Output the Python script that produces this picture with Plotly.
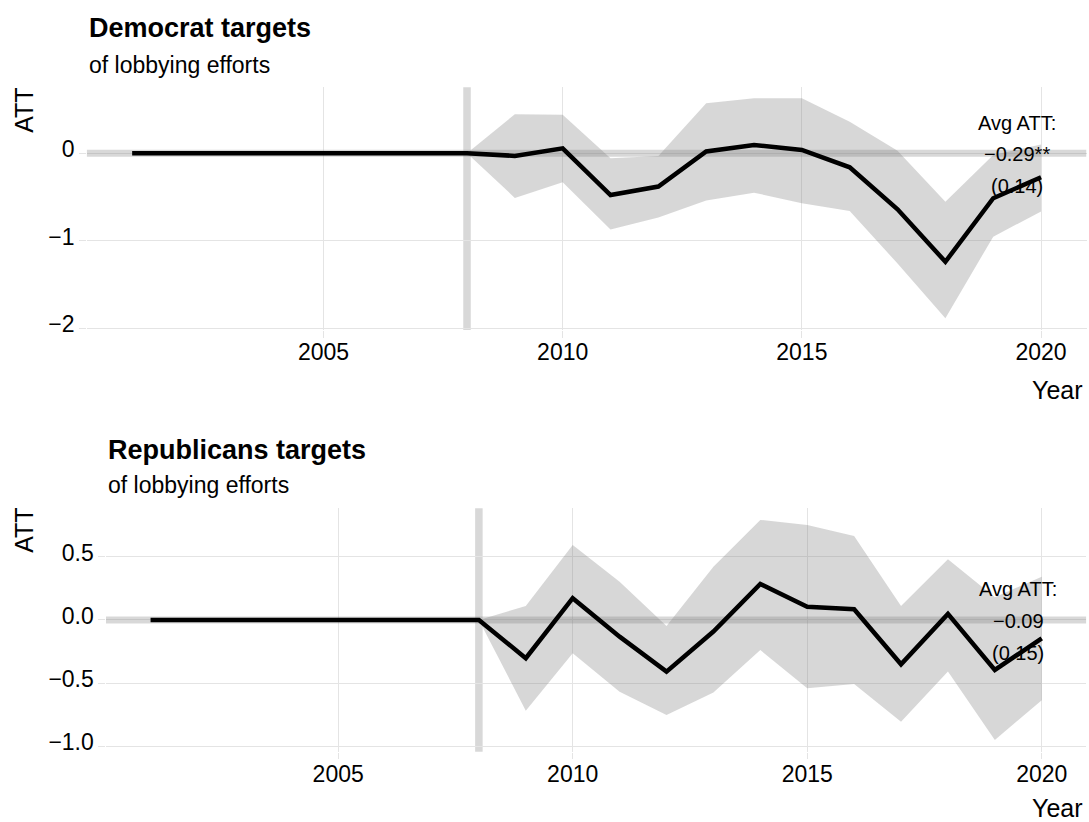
import plotly.graph_objects as go

# ---------------- data ----------------
years = [2001, 2002, 2003, 2004, 2005, 2006, 2007, 2008, 2009, 2010,
         2011, 2012, 2013, 2014, 2015, 2016, 2017, 2018, 2019, 2020]

dem_att = [0, 0, 0, 0, 0, 0, 0, 0, -0.03, 0.057,
           -0.477, -0.38, 0.02, 0.095, 0.038, -0.16, -0.64, -1.24, -0.514, -0.274]
dem_lo = [0, 0, 0, 0, 0, 0, 0, 0, -0.51, -0.33,
          -0.87, -0.735, -0.54, -0.45, -0.57, -0.66, -1.26, -1.886, -0.953, -0.665]
dem_hi = [0, 0, 0, 0, 0, 0, 0, 0, 0.446, 0.44,
          -0.057, -0.03, 0.571, 0.628, 0.628, 0.36, 0.03, -0.553, -0.02, 0.1]

rep_att = [0, 0, 0, 0, 0, 0, 0, 0, -0.303, 0.172,
           -0.132, -0.409, -0.092, 0.285, 0.105, 0.085, -0.351, 0.048, -0.396, -0.145]
rep_lo = [0, 0, 0, 0, 0, 0, 0, 0, -0.718, -0.264,
          -0.568, -0.752, -0.575, -0.238, -0.541, -0.507, -0.805, -0.409, -0.95, -0.636]
rep_hi = [0, 0, 0, 0, 0, 0, 0, 0, 0.111, 0.594,
          0.303, -0.048, 0.422, 0.792, 0.752, 0.665, 0.111, 0.48, 0.18, 0.343]

treat_year = 2008
avg_label_x = 2019.5

panels = [
    dict(title="Democrat targets", subtitle="of lobbying efforts",
         att=dem_att, lo=dem_lo, hi=dem_hi,
         avg=["Avg ATT:", "\u22120.29**", "(0.14)"],
         yticks=[-2, -1, 0], yticktext=["\u22122", "\u22121", "0"],
         yrange=[-2.02, 0.754]),
    dict(title="Republicans targets", subtitle="of lobbying efforts",
         att=rep_att, lo=rep_lo, hi=rep_hi,
         avg=["Avg ATT:", "\u22120.09", "(0.15)"],
         yticks=[-1, -0.5, 0, 0.5], yticktext=["\u22121.0", "\u22120.5", "0.0", "0.5"],
         yrange=[-1.043, 0.884]),
]
xticks = [2005, 2010, 2015, 2020]
xrange_ = [2000.05, 2020.95]

# ---------------- layout geometry (pixels) ----------------
W, H = 1089, 822
FONT = "Liberation Sans, Arial, Helvetica, sans-serif"
geo = [
    dict(l=86.7, r=1086.5, t=87.3, b=330.0, title_y=28.0, sub_y=64.5,
         atty=110.8, year_y=390.0),
    dict(l=106.0, r=1086.3, t=508.3, b=751.7, title_y=449.5, sub_y=484.5,
         atty=530.8, year_y=807.5),
]

def px(x):
    return x / W

def py(y):
    return 1 - y / H

fig = go.Figure()
annotations = []
shapes = []
RIBBON = "rgba(127,127,127,0.31)"
BAND = "rgba(127,127,127,0.30)"
GRID = "#e4e4e4"

for i, (p, g) in enumerate(zip(panels, geo)):
    n = "" if i == 0 else str(i + 1)
    xa, ya = "x" + n, "y" + n
    # ribbon
    fig.add_trace(go.Scatter(x=years, y=p["lo"], mode="lines", line=dict(width=0),
                             hoverinfo="skip", showlegend=False, xaxis=xa, yaxis=ya))
    fig.add_trace(go.Scatter(x=years, y=p["hi"], mode="lines", line=dict(width=0),
                             fill="tonexty", fillcolor=RIBBON,
                             hoverinfo="skip", showlegend=False, xaxis=xa, yaxis=ya))
    # zero reference band
    fig.add_trace(go.Scatter(x=xrange_, y=[0, 0], mode="lines",
                             line=dict(color=BAND, width=7),
                             hoverinfo="skip", showlegend=False, xaxis=xa, yaxis=ya))
    # ATT line
    fig.add_trace(go.Scatter(x=years, y=p["att"], mode="lines",
                             line=dict(color="black", width=4.5),
                             showlegend=False, xaxis=xa, yaxis=ya))
    # treatment year band
    shapes.append(dict(type="line", xref=xa, yref=ya + " domain",
                       x0=treat_year, x1=treat_year, y0=0, y1=1,
                       line=dict(color=BAND, width=7.5), layer="below"))

    axis_common = dict(showgrid=True, gridcolor=GRID, gridwidth=1.3,
                       zeroline=False, showline=False,
                       ticks="outside", ticklen=6.6, tickwidth=1.3, tickcolor=GRID,
                       tickfont=dict(family=FONT, size=23, color="black"),
                       automargin=False)
    fig.update_layout(**{
        ("xaxis" + n): dict(axis_common, domain=[px(g["l"]), px(g["r"])],
                            range=xrange_, tickvals=xticks,
                            ticktext=[str(v) for v in xticks],
                            anchor=ya, ticklabelstandoff=-5),
        ("yaxis" + n): dict(axis_common, domain=[py(g["b"]), py(g["t"])],
                            range=p["yrange"], tickvals=p["yticks"],
                            ticktext=p["yticktext"], anchor=xa,
                            ticklabelshift=-4),
    })

    # titles
    annotations.append(dict(text="<b>" + p["title"] + "</b>", xref="paper", yref="paper",
                            x=px(g["l"]), y=py(g["title_y"]), xanchor="left", yanchor="middle",
                            showarrow=False, font=dict(family=FONT, size=27, color="black")))
    annotations.append(dict(text=p["subtitle"], xref="paper", yref="paper",
                            x=px(g["l"]), y=py(g["sub_y"]), xanchor="left", yanchor="middle",
                            showarrow=False, font=dict(family=FONT, size=23, color="black")))
    # axis titles
    annotations.append(dict(text="ATT", xref="paper", yref="paper",
                            x=px(24), y=py(g["atty"]), xanchor="center", yanchor="middle",
                            textangle=-90, showarrow=False,
                            font=dict(family=FONT, size=25, color="black")))
    annotations.append(dict(text="Year", xref="paper", yref="paper",
                            x=px(1085), y=py(g["year_y"]), xanchor="right", yanchor="middle",
                            showarrow=False, font=dict(family=FONT, size=25, color="black")))
    # avg ATT label
    for k, (txt, shift) in enumerate(zip(p["avg"], [31.7, 0, -31.7])):
        annotations.append(dict(text=txt, xref=xa, yref=ya, x=avg_label_x, y=0,
                                yshift=shift - 1, xanchor="center", yanchor="middle",
                                showarrow=False,
                                font=dict(family=FONT, size=20, color="black")))

fig.update_layout(width=W, height=H, margin=dict(l=0, r=0, t=0, b=0),
                  paper_bgcolor="white", plot_bgcolor="white",
                  annotations=annotations, shapes=shapes, showlegend=False)

fig.write_html("out.html")
